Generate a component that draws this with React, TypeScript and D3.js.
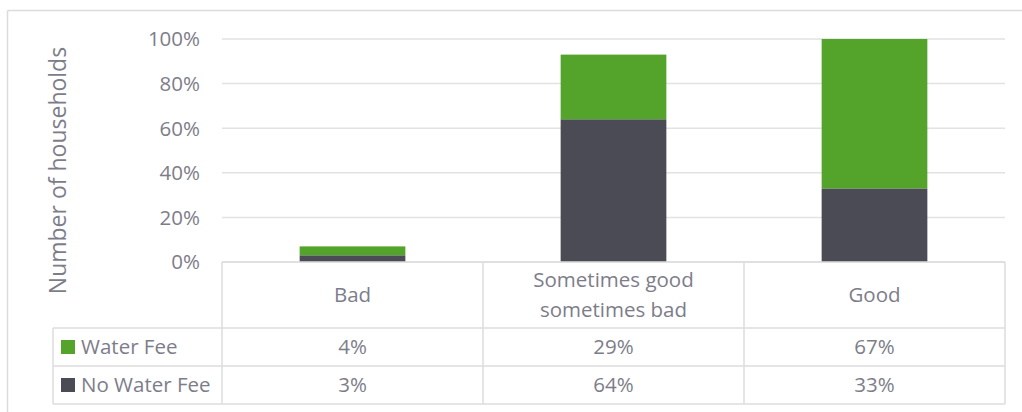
import React from "react";
import * as d3 from "d3";

const categories = ["Bad", "Sometimes good sometimes bad", "Good"];
const categoryLines = [["Bad"], ["Sometimes good", "sometimes bad"], ["Good"]];
const seriesNames = ["No Water Fee", "Water Fee"];
const noWaterFee = [3, 64, 33];
const waterFee = [4, 29, 67];
const yTicks = [0, 20, 40, 60, 80, 100];

const GREEN = "#54a42c";
const DARK = "#4b4b55";
const TEXT = "#7d7d8a";
const GRID = "#e2e2e2";
const BORDER = "#dcdcdc";
const FONT = "'Open Sans', sans-serif";
const FS = 20.5;

export default function App() {
  const left = 222, right = 1005, top = 39, bottom = 262;
  const x = d3.scaleBand<string>().domain(categories).range([left, right]).padding(0);
  const y = d3.scaleLinear().domain([0, 100]).range([bottom, top]);
  const barW = x.bandwidth() * 0.405;

  const rows = categories.map((c, i) => ({ cat: c, no: noWaterFee[i], yes: waterFee[i] }));
  const stack = d3.stack<any>().keys(["no", "yes"])(rows as any);
  const colors = [DARK, GREEN];

  const row1 = 328, row2 = 366, row3 = 404, legLeft = 53;

  return (
    <svg width={1022} height={412} style={{ position: "absolute", left: 0, top: 0, background: "#fff" }} fontFamily={FONT}>
      {/* outer border */}
      <line x1={7.5} y1={10.5} x2={1022} y2={10.5} stroke={BORDER} strokeWidth={1.5} />
      <line x1={7.5} y1={10.5} x2={7.5} y2={412} stroke={BORDER} strokeWidth={1.5} />

      {/* gridlines */}
      {yTicks.map((t) => (
        <line key={t} x1={left} x2={right} y1={y(t)} y2={y(t)} stroke={GRID} strokeWidth={1.5} />
      ))}
      {yTicks.map((t) => (
        <text key={"l" + t} x={200} y={y(t)} dy="0.36em" textAnchor="end" fontSize={FS} fill={TEXT}>
          {t + "%"}
        </text>
      ))}
      <text transform={`translate(66,${(48 + 293) / 2}) rotate(-90)`} textAnchor="middle" fontSize={23} fill={TEXT}>
        Number of households
      </text>

      {/* bars */}
      {stack.map((s, si) =>
        s.map((d: any, i: number) => {
          const cx = (x(categories[i]) as number) + x.bandwidth() / 2;
          return (
            <rect key={si + "-" + i} x={cx - barW / 2} width={barW} y={y(d[1])} height={y(d[0]) - y(d[1])} fill={colors[si]} />
          );
        })
      )}

      {/* table lines */}
      <line x1={left} x2={right} y1={bottom} y2={bottom} stroke={BORDER} strokeWidth={1.5} />
      {[row1, row2, row3].map((r) => (
        <line key={r} x1={legLeft} x2={right} y1={r} y2={r} stroke={BORDER} strokeWidth={1.5} />
      ))}
      <line x1={legLeft} x2={legLeft} y1={row1} y2={row3} stroke={BORDER} strokeWidth={1.5} />
      {[...categories.map((c) => x(c) as number), right].map((vx, i) => (
        <line key={"v" + i} x1={vx} x2={vx} y1={bottom} y2={row3} stroke={BORDER} strokeWidth={1.5} />
      ))}

      {/* category labels */}
      {categoryLines.map((lines, i) => {
        const cx = (x(categories[i]) as number) + x.bandwidth() / 2;
        const mid = (bottom + row1) / 2;
        const lh = 30;
        const start = mid - ((lines.length - 1) * lh) / 2;
        return lines.map((ln, j) => (
          <text key={i + "-" + j} x={cx} y={start + j * lh} dy="0.36em" textAnchor="middle" fontSize={FS} fill={TEXT}>
            {ln}
          </text>
        ));
      })}

      {/* legend rows */}
      {[
        { name: seriesNames[1], color: GREEN, vals: waterFee, y0: row1, y1: row2 },
        { name: seriesNames[0], color: DARK, vals: noWaterFee, y0: row2, y1: row3 },
      ].map((r) => {
        const my = (r.y0 + r.y1) / 2;
        return (
          <g key={r.name}>
            <rect x={61} y={my - 7} width={14} height={14} fill={r.color} />
            <text x={81} y={my} dy="0.36em" fontSize={FS} fill={TEXT}>
              {r.name}
            </text>
            {r.vals.map((v, i) => (
              <text key={i} x={(x(categories[i]) as number) + x.bandwidth() / 2} y={my} dy="0.36em" textAnchor="middle" fontSize={FS} fill={TEXT}>
                {v + "%"}
              </text>
            ))}
          </g>
        );
      })}
    </svg>
  );
}
